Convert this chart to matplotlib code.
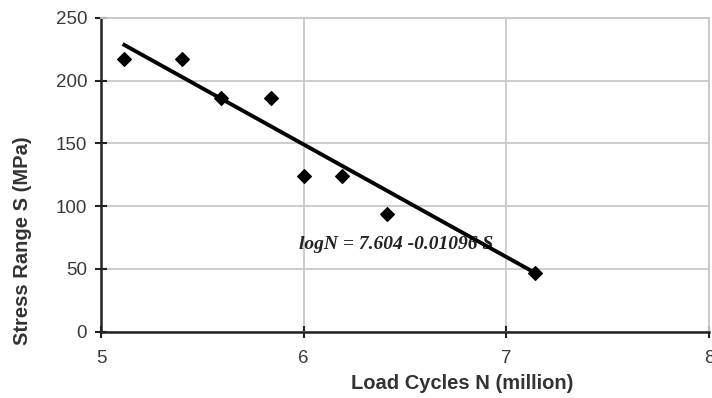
import matplotlib.pyplot as plt

# datos
ciclos_log = [5.113, 5.40, 5.59, 5.84, 6.00, 6.19, 6.41, 7.14]
esfuerzo = [217, 217, 186, 186, 124, 124, 94, 47]

# extremos de la recta de ajuste
ajuste_x = [5.115, 7.15]
ajuste_y = [228.5, 46]
ecuacion = 'logN = 7.604 -0.01096 S'

x_ticks = [5, 6, 7, 8]
y_ticks = [0, 50, 100, 150, 200, 250]

plt.rcParams['font.family'] = ['Liberation Sans', 'DejaVu Sans']

fig = plt.figure(figsize=(7.12, 3.98), dpi=100)
ax = fig.add_axes([0.1419, 0.167, 0.8539, 0.7878])

ax.set_xlim(5, 8)
ax.set_ylim(0, 250)
ax.set_xticks(x_ticks)
ax.set_yticks(y_ticks)
ax.grid(True, color='#c8c8c8', linewidth=1.3)
ax.set_axisbelow(True)

for lado in ['top', 'right']:
    ax.spines[lado].set_color('#c8c8c8')
    ax.spines[lado].set_linewidth(1.3)
for lado in ['left', 'bottom']:
    ax.spines[lado].set_color('#222222')
    ax.spines[lado].set_linewidth(1.8)

ax.tick_params(direction='inout', length=8, width=1.5, color='#222222',
               labelsize=13.5, labelcolor='#3a3a3a')
ax.tick_params(axis='x', pad=9)
ax.tick_params(axis='y', pad=6)

ax.scatter(ciclos_log, esfuerzo, marker='D', s=48, color='black', zorder=3)
ax.text(5.975, 69, ecuacion, family=['Liberation Serif'], style='italic',
        fontweight='bold', fontsize=14, color='#222222', va='center', zorder=2)
ax.plot(ajuste_x, ajuste_y, color='black', linewidth=2.8, zorder=4)

ax.set_xlabel('Load Cycles N (million)', fontsize=14.5, fontweight='bold',
              color='#333333')
ax.set_ylabel('Stress Range S (MPa)', fontsize=14.5, fontweight='bold',
              color='#333333')
ax.xaxis.set_label_coords(0.594, -0.137)
ax.yaxis.set_label_coords(-0.113, 0.29)

plt.savefig('out.png', dpi=100)
